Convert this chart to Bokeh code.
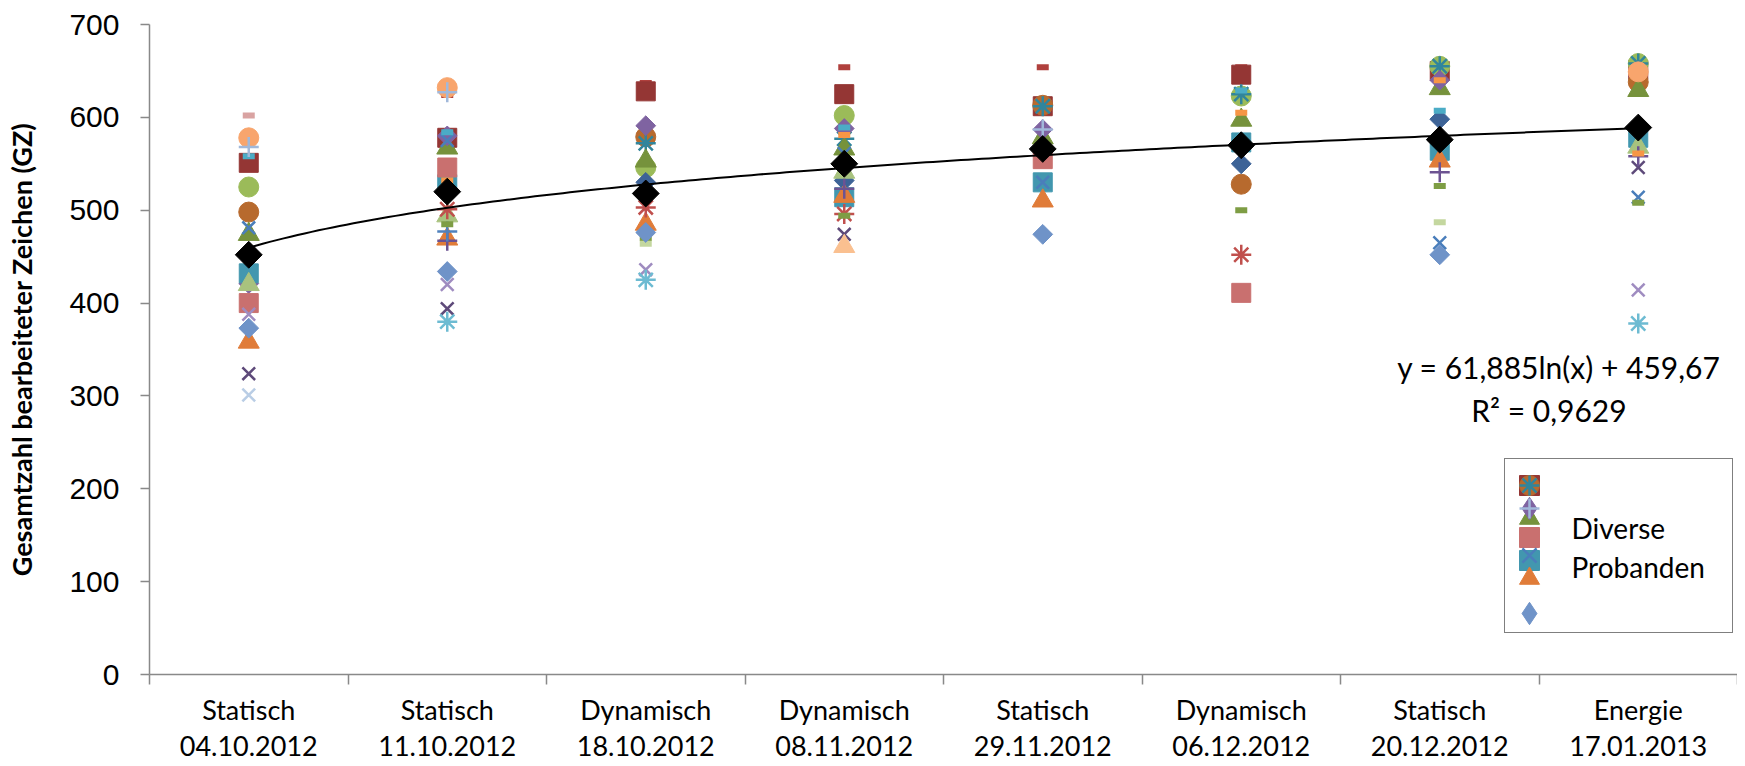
import math
import numpy as np
from bokeh.plotting import figure
from bokeh.models import Range1d, FixedTicker, Legend, LegendItem, Label
from bokeh.embed import file_html
from bokeh.resources import INLINE

NA = float("nan")

# ---------------- data ----------------
session_types = ["Statisch", "Statisch", "Dynamisch", "Dynamisch",
                 "Statisch", "Dynamisch", "Statisch", "Energie"]
session_dates = ["04.10.2012", "11.10.2012", "18.10.2012", "08.11.2012",
                 "29.11.2012", "06.12.2012", "20.12.2012", "17.01.2013"]
y_ticks = [0, 100, 200, 300, 400, 500, 600, 700]

# characters processed per participant and session (NA = hidden / not visible)
red_dash         = [NA, 624, 637, 654, 654, 654, NA, NA]
dkred_square     = [551, 578, 628, 625, 612, 646, 650, 651]
green_circle     = [525, NA, 546, 602, NA, 623, 655, 658]
dkorange_circle  = [498, NA, 579, NA, 613, 528, NA, 638]
dkaqua_star      = [NA, NA, 572, 577, 612, 625, 655, 658]
dkgreen_triangle = [474, 567, 553, 566, 578, 597, 631, 629]
purple_diamond   = [421, 580, 591, 588, 587, NA, 640, NA]
dkblue_diamond   = [NA, NA, 530, 532, NA, 550, 598, NA]
teal_square      = [432, 528, NA, 514, 530, 573, 564, 578]
red_square       = [400, 546, NA, NA, 555, 411, NA, NA]
lgreen_triangle  = [420, 494, NA, 541, NA, NA, NA, 568]
orange_triangle  = [358, 469, 485, 515, 510, NA, 553, NA]
blue_x           = [481, 575, NA, 561, 530, NA, 465, 514]
dkpurple_x       = [324, 394, NA, 474, NA, NA, NA, 546]
lpurple_x        = [388, 420, 436, NA, NA, NA, NA, 414]
aqua_star        = [NA, 380, 425, NA, NA, NA, NA, 378]
red_star         = [NA, 501, 503, 496, NA, 452, NA, NA]
dkpurple_plus    = [NA, 467, NA, 523, NA, NA, 541, 558]
blue_plus        = [NA, 477, NA, NA, NA, NA, NA, NA]
green_dash       = [NA, 485, 470, 494, NA, 500, 526, 508]
orange_dash      = [NA, 532, NA, 581, NA, 605, 640, 561]
aqua_dash        = [558, 584, NA, 589, NA, 629, 607, NA]
lgreen_dash      = [NA, NA, 464, NA, NA, NA, 487, NA]
peach_triangle   = [NA, NA, NA, 461, NA, NA, NA, NA]
lblue_x          = [301, NA, NA, NA, NA, NA, NA, NA]
pink_dash        = [602, NA, NA, NA, NA, NA, NA, NA]
blue_diamond     = [373, 434, 476, NA, 474, NA, 452, NA]
orange_circle    = [578, 632, NA, NA, NA, NA, NA, 649]
lblue_plus       = [568, 627, NA, NA, 587, NA, NA, NA]

mean_values = [452, 520, 518, 550, 566, 570, 576, 589]

trend_a = 61.885
trend_b = 459.67
trend_r2 = 0.9629

legend_labels = ["Diverse", "Probanden"]

# ---------------- styles ----------------
MARKERS = {
    "diamond":  dict(marker="square", size=14, angle=math.pi / 4),
    "square":   dict(marker="square", size=19),
    "triangle": dict(marker="triangle", size=21),
    "x":        dict(marker="x", size=18, line_width=2.5),
    "star":     dict(marker="asterisk", size=20, line_width=2.5),
    "circle":   dict(marker="circle", size=20),
    "plus":     dict(marker="cross", size=20, line_width=2.5),
    "dash":     dict(marker="dash", size=12, line_width=6),
}

series = [
    ("red_dash", red_dash, "dash", "#B0403D"),
    ("dkred_square", dkred_square, "square", "#943634"),
    ("green_circle", green_circle, "circle", "#9BBB59"),
    ("dkorange_circle", dkorange_circle, "circle", "#B76A2E"),
    ("dkaqua_star", dkaqua_star, "star", "#31859C"),
    ("dkgreen_triangle", dkgreen_triangle, "triangle", "#76923C"),
    ("purple_diamond", purple_diamond, "diamond", "#7F63A1"),
    ("dkblue_diamond", dkblue_diamond, "diamond", "#3D6397"),
    ("teal_square", teal_square, "square", "#4297AF"),
    ("red_square", red_square, "square", "#C9706F"),
    ("lgreen_triangle", lgreen_triangle, "triangle", "#A8C27E"),
    ("orange_triangle", orange_triangle, "triangle", "#E07C39"),
    ("blue_x", blue_x, "x", "#4A7EBB"),
    ("dkpurple_x", dkpurple_x, "x", "#5E4A7A"),
    ("lpurple_x", lpurple_x, "x", "#9F8CC0"),
    ("aqua_star", aqua_star, "star", "#6DBBD2"),
    ("red_star", red_star, "star", "#C0504D"),
    ("dkpurple_plus", dkpurple_plus, "plus", "#6C5392"),
    ("blue_plus", blue_plus, "plus", "#4F81BD"),
    ("green_dash", green_dash, "dash", "#7E9D44"),
    ("orange_dash", orange_dash, "dash", "#F79646"),
    ("aqua_dash", aqua_dash, "dash", "#4BACC6"),
    ("lgreen_dash", lgreen_dash, "dash", "#C4D79F"),
    ("peach_triangle", peach_triangle, "triangle", "#FAC090"),
    ("lblue_x", lblue_x, "x", "#B9CDE5"),
    ("pink_dash", pink_dash, "dash", "#D9A3A2"),
    ("blue_diamond", blue_diamond, "diamond", "#6F93C8"),
    ("orange_circle", orange_circle, "circle", "#F8A56D"),
    ("lblue_plus", lblue_plus, "plus", "#A1B8DA"),
]
COLORS = {name: color for name, _, _, color in series}

x_pos = [i + 1 for i in range(len(session_dates))]
x_bounds = [i + 0.5 for i in range(len(session_dates) + 1)]

AXIS_GREY = "#898989"

p = figure(width=1737, height=764,
           x_range=Range1d(0.5, len(session_dates) + 0.5),
           y_range=Range1d(y_ticks[0], y_ticks[-1]),
           output_backend="svg", toolbar_location=None,
           min_border_left=149, min_border_right=0,
           min_border_top=24, min_border_bottom=60)
p.outline_line_color = None
p.grid.visible = False
p.background_fill_color = "white"

# y axis
ya = p.yaxis[0]
ya.ticker = FixedTicker(ticks=y_ticks)
ya.axis_line_color = AXIS_GREY
ya.axis_line_width = 1.5
ya.major_tick_line_color = AXIS_GREY
ya.major_tick_line_width = 1.5
ya.major_tick_out = 9
ya.major_tick_in = 0
ya.minor_tick_out = 0
ya.minor_tick_in = 0
ya.major_label_text_font = "Liberation Sans"
ya.major_label_text_font_size = "30px"
ya.major_label_text_color = "black"
ya.major_label_standoff = 21
ya.axis_label = "Gesamtzahl bearbeiteter Zeichen (GZ)"
ya.axis_label_text_font = "Lato"
ya.axis_label_text_font_style = "bold"
ya.axis_label_text_font_size = "27px"
ya.axis_label_text_color = "black"
ya.axis_label_standoff = 28

# x axis
xa = p.xaxis[0]
xa.ticker = FixedTicker(ticks=x_pos, minor_ticks=x_bounds)
xa.major_label_overrides = {x: f"{t}\n{d}" for x, t, d in zip(x_pos, session_types, session_dates)}
xa.axis_line_color = AXIS_GREY
xa.axis_line_width = 1.5
xa.major_tick_out = 0
xa.major_tick_in = 0
xa.minor_tick_out = 10
xa.minor_tick_in = 0
xa.minor_tick_line_color = AXIS_GREY
xa.minor_tick_line_width = 1.5
xa.major_label_text_font = "Lato"
xa.major_label_text_font_size = "27px"
xa.major_label_text_color = "black"
xa.major_label_text_line_height = 1.1
xa.major_label_standoff = 8

renderers = {}
for name, vals, mk, color in series:
    style = dict(MARKERS[mk])
    r = p.scatter(x=x_pos, y=vals, fill_color=color, line_color=color, **style)
    renderers[name] = r

# logarithmic trend line (Excel trendline, coefficients from its label)
tx = np.linspace(x_pos[0], x_pos[-1], 200)
ty = trend_a * np.log(tx) + trend_b
p.line(tx, ty, line_color="black", line_width=2)

# mean values
p.scatter(x=x_pos, y=mean_values, marker="square", size=19, angle=math.pi / 4,
          fill_color="black", line_color="black")

def fmt(v, nd):
    return f"{v:.{nd}f}".replace(".", ",")

eq1 = f"y = {fmt(trend_a, 3)}ln(x) + {fmt(trend_b, 2)}"
eq2 = f"R\u00b2 = {fmt(trend_r2, 4)}"
p.add_layout(Label(x=7.60, y=331, text=eq1, text_align="center", text_baseline="middle",
                   text_font="Lato", text_font_size="30px", text_color="black"))
p.add_layout(Label(x=7.55, y=285, text=eq2, text_align="center", text_baseline="middle",
                   text_font="Lato", text_font_size="30px", text_color="black"))

# ---------------- legend ----------------
# proxies (legend glyphs only; no visible data)
frame_proxy = p.scatter(x=[NA], y=[NA], marker="square", fill_alpha=0, line_alpha=0)
leg_purple_d = p.scatter(x=[NA], y=[NA], marker="diamond",
                         fill_color=COLORS["purple_diamond"], line_color=COLORS["purple_diamond"])
leg_blue_d = p.scatter(x=[NA], y=[NA], marker="diamond",
                       fill_color=COLORS["blue_diamond"], line_color=COLORS["blue_diamond"])

FRAME_BOTTOM_PX = 671   # frame bottom in page px (for placing legend parts)
FRAME_LEFT_PX = 151

frame_legend = Legend(items=[LegendItem(label=" ", renderers=[frame_proxy])],
                      location=(1506 - FRAME_LEFT_PX, FRAME_BOTTOM_PX - 630),
                      glyph_width=50, glyph_height=173, label_standoff=17,
                      label_width=160, label_height=20, padding=0, margin=0,
                      label_text_font_size="10px",
                      border_line_color="black", border_line_width=1.5,
                      background_fill_alpha=0.0)
p.add_layout(frame_legend, "center")

legend_rows = [
    (482, 50, [renderers["dkred_square"], renderers["dkorange_circle"], renderers["dkaqua_star"]]),
    (515, 50, [renderers["dkgreen_triangle"]]),
    (505, 56, [leg_purple_d]),
    (505, 50, [renderers["lblue_plus"]]),
    (534, 50, [renderers["red_square"]]),
    (557, 50, [renderers["teal_square"]]),
    (552, 50, [renderers["blue_x"]]),
    (575, 50, [renderers["orange_triangle"]]),
    (610, 56, [leg_blue_d]),
]
for cy, box, rends in legend_rows:
    lg = Legend(items=[LegendItem(label=" ", renderers=rends)],
                location=(1531 - box // 2 - FRAME_LEFT_PX, FRAME_BOTTOM_PX - cy - box // 2),
                glyph_width=box, glyph_height=box, label_standoff=0, label_width=0,
                label_height=box, padding=0, margin=0, label_text_font_size="1px",
                border_line_alpha=0, background_fill_alpha=0)
    p.add_layout(lg, "center")

for text, ydata in zip(legend_labels, [158, 116]):
    p.add_layout(Label(x=7.664, y=ydata, text=text, text_align="left", text_baseline="middle",
                       text_font="Lato", text_font_size="28px", text_color="black"))

open("out.html", "w").write(file_html(p, INLINE))
